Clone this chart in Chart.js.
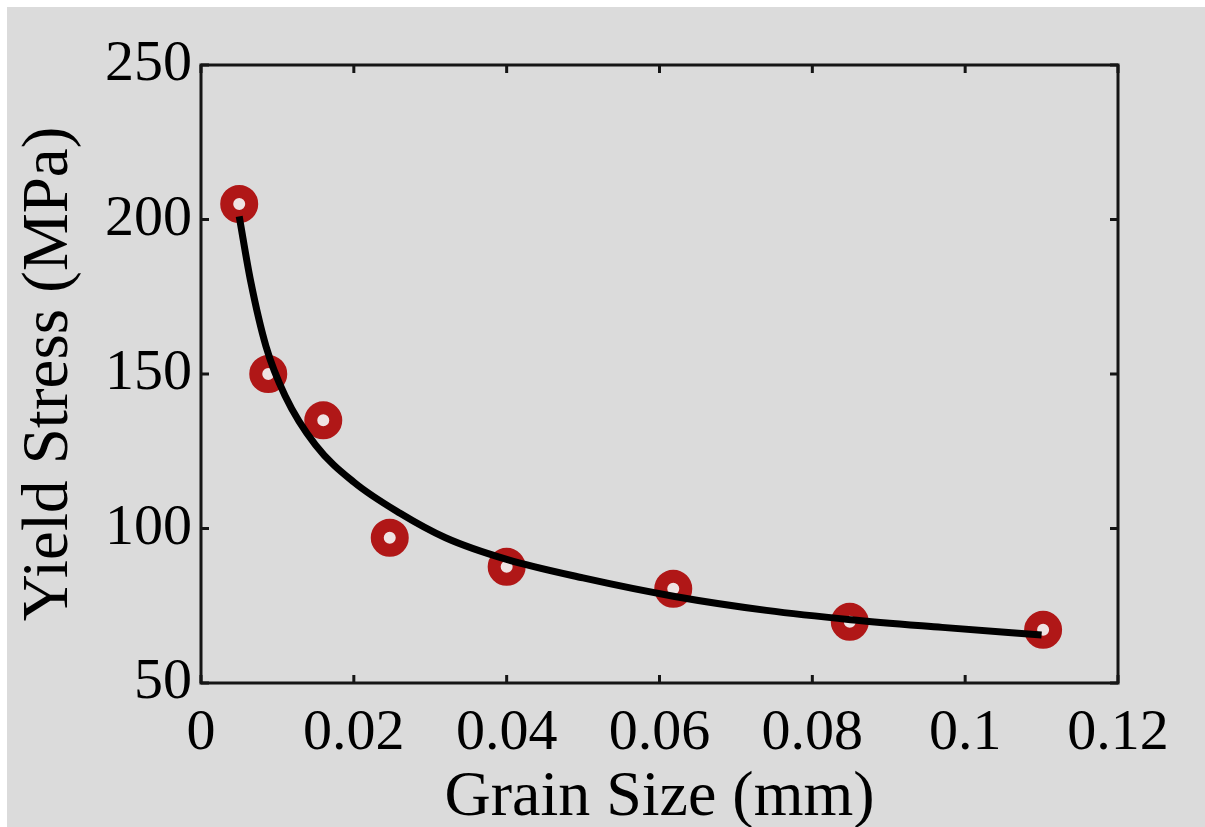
<!DOCTYPE html>
<html>
<head>
<meta charset="utf-8">
<script src="https://cdn.jsdelivr.net/npm/chart.js@4/dist/chart.umd.min.js"></script>
<style>
  html, body { margin: 0; padding: 0; background: #ffffff; }
  #bg { position: absolute; left: 7px; top: 7px; width: 1198px; height: 820px; background: #dbdbdb; }
  #wrap { position: absolute; left: 0; top: 0; width: 1205px; height: 827px; }
</style>
</head>
<body>
<div id="bg"></div>
<div id="wrap"><canvas id="c" width="1205" height="827"></canvas></div>
<script>
// Measured data points (grain size in mm, yield stress in MPa)
const grainSize = [0.005, 0.0088, 0.016, 0.0247, 0.040, 0.0618, 0.0849, 0.1102];
const yieldStress = [205, 150, 135, 97, 87.6, 80.5, 69.8, 67.2];

// Fitted curve
const fitX = [0.005, 0.0065, 0.0085, 0.011, 0.015, 0.020, 0.026, 0.032, 0.040, 0.050, 0.062, 0.074, 0.085, 0.097, 0.110];
const fitY = [201, 180, 159, 143, 127, 115, 105, 97, 90, 84, 78, 73.5, 70.5, 68, 65.5];

// Axis ticks
const xTicks = [0, 0.02, 0.04, 0.06, 0.08, 0.10, 0.12];
const xTickLabels = ['0', '0.02', '0.04', '0.06', '0.08', '0.1', '0.12'];
const yTicks = [50, 100, 150, 200, 250];
const yTickLabels = ['50', '100', '150', '200', '250'];

const xTitle = 'Grain Size (mm)';
const yTitle = 'Yield Stress (MPa)';

const SERIF = "'Liberation Serif', 'Times New Roman', 'DejaVu Serif', serif";

const boxAndTicks = {
  id: 'boxAndTicks',
  afterDraw(chart) {
    const ctx = chart.ctx;
    const a = chart.chartArea;
    const xs = chart.scales.x, ys = chart.scales.y;
    ctx.save();
    ctx.strokeStyle = '#151515';
    ctx.lineWidth = 3;
    ctx.strokeRect(a.left, a.top, a.right - a.left, a.bottom - a.top);
    const tl = 8;
    xTicks.forEach(v => {
      const px = xs.getPixelForValue(v);
      ctx.beginPath();
      ctx.moveTo(px, a.bottom); ctx.lineTo(px, a.bottom - tl);
      ctx.moveTo(px, a.top); ctx.lineTo(px, a.top + tl);
      ctx.stroke();
    });
    yTicks.forEach(v => {
      const py = ys.getPixelForValue(v);
      ctx.beginPath();
      ctx.moveTo(a.left, py); ctx.lineTo(a.left + tl, py);
      ctx.moveTo(a.right, py); ctx.lineTo(a.right - tl, py);
      ctx.stroke();
    });
    ctx.restore();
  }
};

new Chart(document.getElementById('c'), {
  type: 'scatter',
  data: {
    datasets: [
      {
        label: 'Fit',
        data: fitX.map((x, i) => ({ x: x, y: fitY[i] })),
        showLine: true,
        borderColor: '#000000',
        borderWidth: 7,
        pointRadius: 0,
        cubicInterpolationMode: 'monotone',
        order: 0
      },
      {
        label: 'Data',
        data: grainSize.map((x, i) => ({ x: x, y: yieldStress[i] })),
        showLine: false,
        pointStyle: 'circle',
        pointRadius: 12.5,
        pointBorderWidth: 13,
        borderColor: '#b01717',
        backgroundColor: '#efe4e4',
        order: 1
      }
    ]
  },
  options: {
    responsive: false,
    animation: false,
    layout: { padding: { top: 65, right: 87, left: 0, bottom: 0 } },
    plugins: { legend: { display: false }, tooltip: { enabled: false } },
    scales: {
      x: {
        type: 'linear',
        min: 0, max: 0.12,
        afterBuildTicks(scale) { scale.ticks = xTicks.map(v => ({ value: v })); },
        afterFit(scale) { scale.height = 827 - 683; },
        grid: { display: false, drawTicks: false },
        border: { display: false },
        ticks: {
          color: '#000',
          padding: 16,
          maxRotation: 0,
          autoSkip: false,
          font: { family: SERIF, size: 58 },
          callback: (v) => { const i = xTicks.findIndex(t => Math.abs(t - v) < 1e-9); return i >= 0 ? xTickLabels[i] : ''; }
        },
        title: {
          display: true,
          text: xTitle,
          color: '#000',
          font: { family: SERIF, size: 64, lineHeight: 0.9 },
          padding: { top: 0, bottom: 0 }
        }
      },
      y: {
        type: 'linear',
        min: 50, max: 250,
        afterBuildTicks(scale) { scale.ticks = yTicks.map(v => ({ value: v })); },
        afterFit(scale) { scale.width = 201; },
        grid: { display: false, drawTicks: false },
        border: { display: false },
        ticks: {
          color: '#000',
          padding: 9,
          autoSkip: false,
          font: { family: SERIF, size: 58 },
          callback: (v) => { const i = yTicks.indexOf(v); return i >= 0 ? yTickLabels[i] : ''; }
        },
        title: {
          display: true,
          text: yTitle,
          color: '#000',
          font: { family: SERIF, size: 65 },
          padding: { top: 11, bottom: 0 }
        }
      }
    }
  },
  plugins: [boxAndTicks]
});
</script>
</body>
</html>
